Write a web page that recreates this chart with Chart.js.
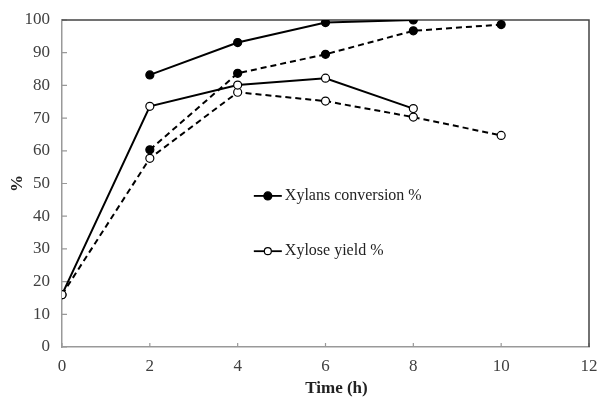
<!DOCTYPE html>
<html>
<head>
<meta charset="utf-8">
<script src="https://cdn.jsdelivr.net/npm/chart.js@4/dist/chart.umd.min.js"></script>
<style>
  html, body { margin: 0; padding: 0; background: #fff; }
  #wrap { width: 598px; height: 399px; position: relative; }
</style>
</head>
<body>
<div id="wrap"><canvas id="chart"></canvas></div>
<script>
// Time points (h)
const times = [0, 2, 4, 6, 8, 10];

// Xylans conversion % (filled markers)
const conversionSolid = [null, 83.2, 93.1, 99.2, 100, null];
const conversionDashed = [null, 60.3, 83.7, 89.5, 96.7, 98.6];

// Xylose yield % (open markers)
const yieldSolid = [16, 73.6, 80.1, 82.2, 72.9, null];
const yieldDashed = [16, 57.7, 77.9, 75.2, 70.3, 64.7];

const xTicks = [0, 2, 4, 6, 8, 10, 12];
const yTicks = [0, 10, 20, 30, 40, 50, 60, 70, 80, 90, 100];

const legendLabels = ['Xylans conversion %', 'Xylose yield %'];
const xTitle = 'Time (h)';
const yTitle = '%';

const FONT = '"Liberation Serif", "Times New Roman", serif';

function toPoints(values) {
    const pts = [];
    values.forEach((v, i) => {
        if (v !== null) pts.push({ x: times[i], y: v });
    });
    return pts;
}

function makeSet(values, filled, dashed) {
    return {
        data: toPoints(values),
        borderColor: '#000',
        borderWidth: 2,
        borderDash: dashed ? [6, 4] : [],
        pointRadius: 4,
        pointHoverRadius: 4,
        pointBorderWidth: 1.2,
        pointBorderColor: '#000',
        pointBackgroundColor: filled ? '#000' : '#fff',
        tension: 0,
        fill: false
    };
}

// Frame, inward ticks, axis titles and the legend inside the plot
const framePlugin = {
    id: 'frame',
    beforeDatasetsDraw(chart) {
        const ctx = chart.ctx;
        const a = chart.chartArea;
        const xs = chart.scales.x, ys = chart.scales.y;
        ctx.save();
        ctx.strokeStyle = '#999';
        ctx.lineWidth = 1.2;
        ctx.beginPath();
        xTicks.forEach(v => {
            const px = xs.getPixelForValue(v);
            ctx.moveTo(px, a.bottom);
            ctx.lineTo(px, a.bottom - 4);
        });
        yTicks.forEach(v => {
            const py = ys.getPixelForValue(v);
            ctx.moveTo(a.left, py);
            ctx.lineTo(a.left + 5, py);
        });
        ctx.stroke();

        ctx.strokeStyle = '#444';
        ctx.lineWidth = 1.5;
        ctx.beginPath();
        ctx.moveTo(a.left, a.top);
        ctx.lineTo(a.right, a.top);
        ctx.lineTo(a.right, a.bottom);
        ctx.stroke();

        // axis titles
        ctx.fillStyle = '#222';
        ctx.font = 'bold 17px ' + FONT;
        ctx.textAlign = 'center';
        ctx.textBaseline = 'middle';
        ctx.fillText(xTitle, xs.getPixelForValue(6.25), 389);
        ctx.save();
        ctx.translate(18, ys.getPixelForValue(50));
        ctx.rotate(-Math.PI / 2);
        ctx.fillText(yTitle, 0, 0);
        ctx.restore();
        ctx.restore();
    },
    afterDatasetsDraw(chart) {
        const ctx = chart.ctx;
        const a = chart.chartArea;
        ctx.save();
        // legend
        const lx = a.left + (a.right - a.left) * 0.364;
        const rows = [a.top + (a.bottom - a.top) * 0.538, a.top + (a.bottom - a.top) * 0.707];
        rows.forEach((ly, i) => {
            ctx.strokeStyle = '#000';
            ctx.lineWidth = 1.8;
            ctx.setLineDash([]);
            ctx.beginPath();
            ctx.moveTo(lx, ly);
            ctx.lineTo(lx + 28, ly);
            ctx.stroke();
            ctx.beginPath();
            ctx.arc(lx + 14, ly, i === 0 ? 4 : 3.5, 0, Math.PI * 2);
            ctx.fillStyle = i === 0 ? '#000' : '#fff';
            ctx.fill();
            ctx.lineWidth = 1.2;
            ctx.stroke();
            ctx.fillStyle = '#222';
            ctx.font = '16px ' + FONT;
            ctx.textAlign = 'left';
            ctx.textBaseline = 'middle';
            ctx.fillText(legendLabels[i], lx + 31, ly);
        });
        ctx.restore();
    }
};

new Chart(document.getElementById('chart'), {
    type: 'line',
    data: {
        datasets: [
            makeSet(conversionSolid, true, false),
            makeSet(conversionDashed, true, true),
            makeSet(yieldSolid, false, false),
            makeSet(yieldDashed, false, true)
        ]
    },
    options: {
        responsive: true,
        maintainAspectRatio: false,
        animation: false,
        layout: { padding: { top: 20, right: 9, left: 0, bottom: 0 } },
        plugins: {
            legend: { display: false },
            tooltip: { enabled: false }
        },
        scales: {
            x: {
                type: 'linear',
                min: 0,
                max: 12,
                afterBuildTicks: s => { s.ticks = xTicks.map(v => ({ value: v })); },
                afterFit: s => { s.height = 52; s.paddingLeft = 0; s.paddingRight = 0; },
                grid: { display: false, drawTicks: false },
                border: { color: '#999', width: 1.5 },
                ticks: { color: '#404040', font: { family: FONT, size: 17 }, padding: 9 }
            },
            y: {
                min: 0,
                max: 100,
                afterBuildTicks: s => { s.ticks = yTicks.map(v => ({ value: v })); },
                afterFit: s => { s.width = 62; s.paddingTop = 0; s.paddingBottom = 0; },
                grid: { display: false, drawTicks: false },
                border: { color: '#999', width: 1.5 },
                ticks: { color: '#404040', font: { family: FONT, size: 17 }, padding: 12 }
            }
        }
    },
    plugins: [framePlugin]
});
</script>
</body>
</html>
